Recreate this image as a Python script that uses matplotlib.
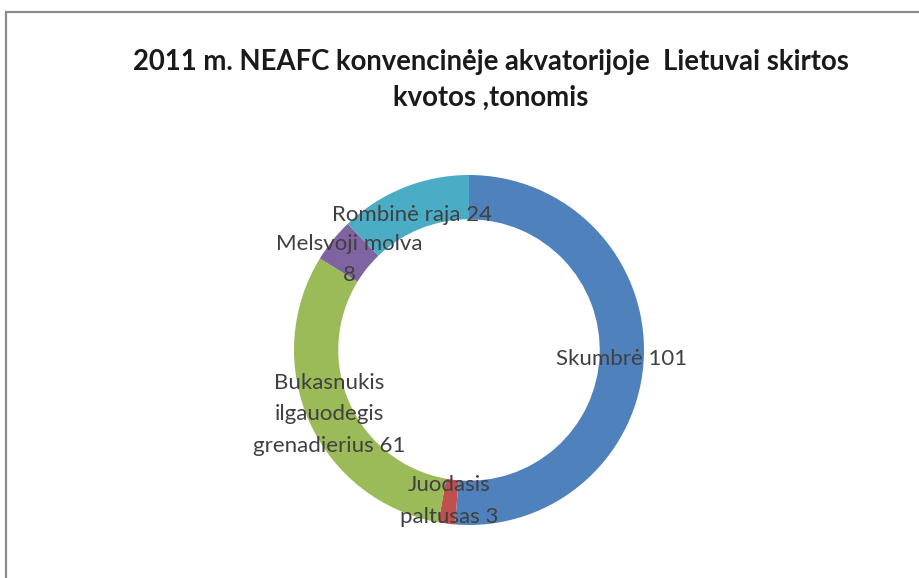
import numpy as np
import matplotlib.pyplot as plt
from matplotlib.patches import Rectangle

# ── Data ─────────────────────────────────────────────────────────
labels = ["Skumbrė 101", "Juodasis\npaltusas 3",
          "Bukasnukis\nilgauodegis\ngrenadierius 61",
          "Melsvoji molva\n8", "Rombinė raja 24"]
values = [101, 3, 61, 8, 24]
colors = ["#4F81BD", "#C0504D", "#9BBB59", "#8064A2", "#4BACC6"]

TITLE = "2011 m. NEAFC konvencinėje akvatorijoje  Lietuvai skirtos\nkvotos ,tonomis"

plt.rcParams["font.family"] = ["Lato", "DejaVu Sans"]

W, H = 919, 578
fig = plt.figure(figsize=(W / 100, H / 100), dpi=100)
fig.patch.set_facecolor("white")

# rėmelis
fig.patches.append(Rectangle((6 / W, -0.05), 1.05, 1.05 - 12 / H,
                             transform=fig.transFigure, fill=False,
                             edgecolor="#8c8c8c", linewidth=1.6))

# ── Donut ────────────────────────────────────────────────────────
cx, cy, R = 469, H - 350, 175
ax = fig.add_axes([(cx - R) / W, (cy - R) / H, 2 * R / W, 2 * R / H])
wedges, _ = ax.pie(values, colors=colors, startangle=90, counterclock=False,
                   radius=1.0, wedgeprops=dict(width=0.253, linewidth=0))
ax.set_xlim(-1, 1)
ax.set_ylim(-1, 1)
ax.set_aspect("equal")
ax.axis("off")

r_lab = 0.875
for w, lab in zip(wedges, labels):
    ang = np.deg2rad((w.theta1 + w.theta2) / 2)
    # litt nedover, som i Excel-etikettane
    dy = -(3 + 4 * np.sin(ang)) / R
    ax.text(r_lab * np.cos(ang), r_lab * np.sin(ang) + dy, lab,
            ha="center", va="center", fontsize=16, color="#404040",
            linespacing=1.72)

fig.text(491 / W, 1 - 80 / H, TITLE, ha="center", va="center",
         fontsize=19.8, fontweight="bold", color="#1a1a1a", linespacing=1.43)

fig.savefig("out.png", dpi=100, facecolor="white")
